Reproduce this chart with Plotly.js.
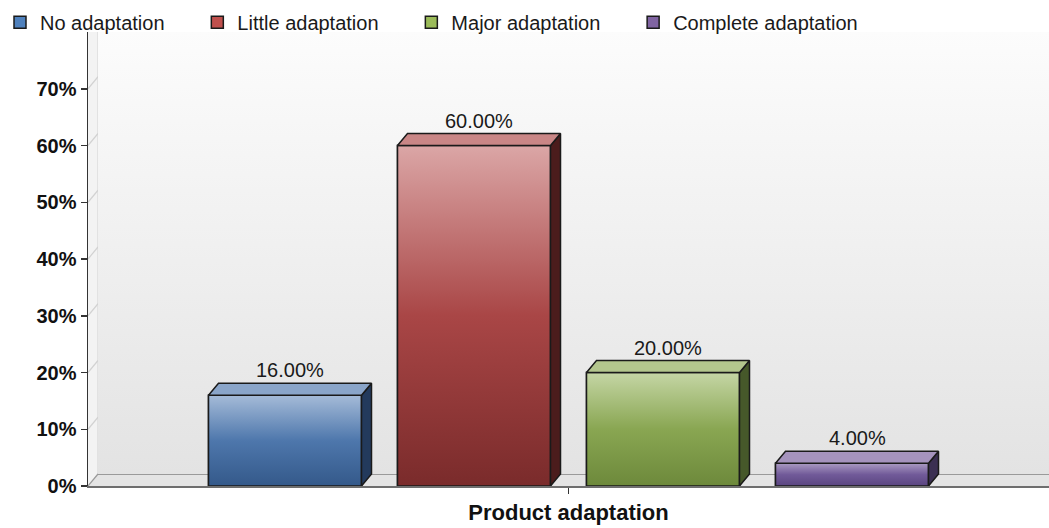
<!DOCTYPE html>
<html>
<head>
<meta charset="utf-8">
<script src="https://cdn.plot.ly/plotly-3.0.1.min.js"></script>
<style>html,body{margin:0;padding:0;background:#fff;}#chart{width:1049px;height:528px;}</style>
</head>
<body>
<div id="chart"></div>
<script>
// ---- data ----
var category = "Product adaptation";
var seriesNames = ["No adaptation", "Little adaptation", "Major adaptation", "Complete adaptation"];
var seriesValues = [16, 60, 20, 4];
var yTicks = [0, 10, 20, 30, 40, 50, 60, 70];

// ---- style ----
var FONT = "'Liberation Sans', Arial, sans-serif";
var baseColors = ["#4f81bd", "#c0504d", "#9bbb59", "#8064a2"];
var gradScales = [
  [[0, "#34598a"], [0.5, "#4e77ac"], [1, "#a5bbd8"]],
  [[0, "#7a2b2b"], [0.5, "#a94646"], [1, "#dba6a6"]],
  [[0, "#6d893b"], [0.5, "#89a652"], [1, "#c5d6a5"]],
  [[0, "#5a4580"], [0.5, "#715a99"], [1, "#aa9ac2"]]
];
var sideColors = ["#233a5c", "#4b1c1c", "#46582a", "#3b2f52"];
var topColors = ["#8aa5c9", "#c98686", "#b3c68d", "#a593bd"];
var LEGEND_PAD = "\u00a0\u00a0\u00a0\u00a0\u00a0";

var W = 1049, H = 528, ML = 88, MR = 0, MT = 32, MB = 42;
var YMAX = 80;
var plotW = W - ML - MR, plotH = H - MT - MB;
var DX = 10 / plotW;          // depth in x data units
var DY = 12 * YMAX / plotH;   // depth in y data units
var SLOT = 189 / plotW;
var BW = 153 / plotW;
var n = seriesValues.length;

var traces = [];
var annotations = [];
var shapes = [];

// bar traces (real bars, base colours, legend)
for (var i = 0; i < n; i++) {
  var cx = (i - (n - 1) / 2) * SLOT;
  traces.push({
    type: "bar", name: seriesNames[i] + (i < n - 1 ? LEGEND_PAD : ""), x: [0], y: [seriesValues[i]],
    width: [BW], offset: [cx - BW / 2],
    marker: {color: baseColors[i], line: {color: "#1a1a1a", width: 1.5}},
    hoverinfo: "skip"
  });
}
// gradient front faces, side faces, top faces
for (var i = 0; i < n; i++) {
  var v = seriesValues[i];
  var cx = (i - (n - 1) / 2) * SLOT;
  var x0 = cx - BW / 2, x1 = cx + BW / 2;
  traces.push({
    type: "scatter", mode: "lines", showlegend: false, hoverinfo: "skip",
    x: [x0, x1, x1, x0, x0], y: [0, 0, v, v, 0],
    fill: "toself", fillgradient: {type: "vertical", colorscale: gradScales[i]},
    line: {color: "#1a1a1a", width: 1.5}
  });
  traces.push({
    type: "scatter", mode: "lines", showlegend: false, hoverinfo: "skip",
    x: [x1, x1 + DX, x1 + DX, x1, x1], y: [0, DY, v + DY, v, 0],
    fill: "toself", fillcolor: sideColors[i],
    line: {color: "#1a1a1a", width: 1.5}
  });
  traces.push({
    type: "scatter", mode: "lines", showlegend: false, hoverinfo: "skip",
    x: [x0, x0 + DX, x1 + DX, x1, x0], y: [v, v + DY, v + DY, v, v],
    fill: "toself", fillcolor: topColors[i],
    line: {color: "#1a1a1a", width: 1.5}
  });
  annotations.push({
    x: cx + DX / 2, y: v + DY, xref: "x", yref: "y", showarrow: false,
    yanchor: "bottom", yshift: 0,
    text: v.toFixed(2) + "%", font: {family: FONT, size: 20, color: "#1a1a1a"}
  });
}

// left wall, floor, gridlines
shapes.push({type: "path", layer: "below", xref: "x", yref: "y",
  path: "M-0.5,0 L" + (-0.5 + DX) + "," + DY + " L" + (-0.5 + DX) + "," + YMAX + " L-0.5," + YMAX + " Z",
  fillcolor: "#f3f3f3", line: {width: 0}});
shapes.push({type: "path", layer: "below", xref: "x", yref: "y",
  path: "M-0.5,0 L0.5,0 L0.5," + DY + " L" + (-0.5 + DX) + "," + DY + " Z",
  fillcolor: "#e4e4e4", line: {width: 0}});
shapes.push({type: "line", layer: "below", xref: "x", yref: "y",
  x0: -0.5 + DX, x1: -0.5 + DX, y0: DY, y1: YMAX, line: {color: "#dddddd", width: 1.5}});
for (var k = 0; k < yTicks.length; k++) {
  var t = yTicks[k];
  var col = t === 0 ? "#9a9a9a" : "#d2d2d2";
  shapes.push({type: "line", layer: "below", xref: "x", yref: "y",
    x0: -0.5 + DX, x1: 0.5, y0: t + DY, y1: t + DY, line: {color: col, width: 2}});
  shapes.push({type: "line", layer: "below", xref: "x", yref: "y",
    x0: -0.5, x1: -0.5 + DX, y0: t, y1: t + DY, line: {color: col, width: 1.2}});
}

var wallSvg = '<svg xmlns="http://www.w3.org/2000/svg" width="100" height="100" preserveAspectRatio="none">' +
  '<defs><linearGradient id="g" x1="0" y1="0" x2="0" y2="1">' +
  '<stop offset="0" stop-color="#fcfcfc"/><stop offset="1" stop-color="#e3e3e3"/></linearGradient></defs>' +
  '<rect width="100" height="100" fill="url(#g)"/></svg>';

var layout = {
  width: W, height: H,
  margin: {l: ML, r: MR, t: MT, b: MB, pad: 0, autoexpand: false},
  paper_bgcolor: "#ffffff", plot_bgcolor: "#ffffff",
  barmode: "overlay",
  showlegend: true,
  legend: {orientation: "h", xref: "container", yref: "container", x: 0, y: 0.995,
    xanchor: "left", yanchor: "top", font: {family: FONT, size: 20, color: "#1a1a1a"},
    traceorder: "normal", itemclick: false, bgcolor: "rgba(0,0,0,0)"},
  xaxis: {range: [-0.5, 0.5], tickvals: [0], ticktext: [category],
    ticks: "outside", ticklen: 6, tickcolor: "#333", tickwidth: 1,
    tickfont: {family: FONT, size: 22, color: "#111", weight: "bold"},
    showline: true, linecolor: "#6e6e6e", linewidth: 1.5, showgrid: false, zeroline: false,
    fixedrange: true},
  yaxis: {range: [0, YMAX], tickvals: yTicks, ticktext: yTicks.map(function (t) { return t + "%"; }),
    ticks: "outside", ticklen: 6, tickcolor: "#333", tickwidth: 1.5,
    tickfont: {family: FONT, size: 20, color: "#111", weight: "bold"},
    showline: true, linecolor: "#333", linewidth: 1.5, showgrid: false, zeroline: false,
    fixedrange: true},
  images: [{source: "data:image/svg+xml;base64," + btoa(wallSvg), xref: "x", yref: "y",
    x: -0.5 + DX, y: YMAX, sizex: 1 - DX, sizey: YMAX - DY, xanchor: "left", yanchor: "top",
    sizing: "stretch", layer: "below"}],
  shapes: shapes,
  annotations: annotations
};

Plotly.newPlot("chart", traces, layout, {displayModeBar: false, staticPlot: true});
</script>
</body>
</html>
